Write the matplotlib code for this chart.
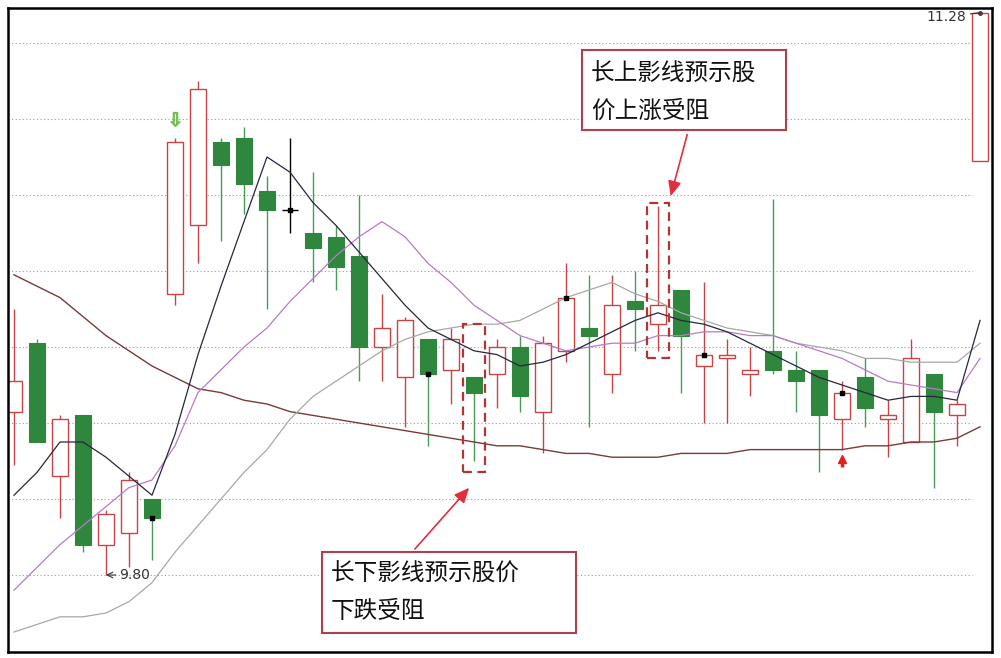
import numpy as np
import matplotlib
matplotlib.use("Agg")
import matplotlib.pyplot as plt
from matplotlib.patches import Rectangle

plt.rcParams['font.family'] = ['Noto Sans CJK SC', 'DejaVu Sans']

# K线数据
opens = [10.23, 10.41, 10.06, 10.22, 9.88, 9.91, 10.00, 10.54, 10.72, 10.94, 10.95, 10.81, 10.76, 10.70, 10.69,
         10.64, 10.40, 10.32, 10.42, 10.34, 10.32, 10.33, 10.40, 10.23, 10.39, 10.45, 10.33, 10.52, 10.46, 10.55,
         10.35, 10.37, 10.33, 10.39, 10.34, 10.34, 10.21, 10.32, 10.21, 10.15, 10.33, 10.22, 10.89]
closes = [10.31, 10.15, 10.21, 9.88, 9.96, 10.05, 9.95, 10.94, 11.08, 10.88, 10.83, 10.76, 10.76, 10.66, 10.61,
          10.40, 10.45, 10.47, 10.33, 10.42, 10.28, 10.40, 10.27, 10.41, 10.53, 10.43, 10.51, 10.50, 10.51, 10.43,
          10.38, 10.38, 10.34, 10.34, 10.31, 10.22, 10.28, 10.24, 10.22, 10.37, 10.23, 10.25, 11.28]
highs = [10.50, 10.42, 10.22, 10.22, 9.97, 10.07, 10.00, 10.95, 11.10, 10.95, 10.98, 10.85, 10.95, 10.86, 10.72,
         10.80, 10.54, 10.48, 10.42, 10.45, 10.32, 10.42, 10.43, 10.43, 10.62, 10.59, 10.59, 10.60, 10.77, 10.55,
         10.57, 10.42, 10.40, 10.79, 10.39, 10.34, 10.31, 10.37, 10.26, 10.42, 10.33, 10.26, 11.28]
lows = [10.09, 10.15, 9.95, 9.86, 9.80, 9.82, 9.84, 10.51, 10.62, 10.68, 10.75, 10.50, 10.70, 10.57, 10.55,
        10.31, 10.31, 10.19, 10.14, 10.25, 10.10, 10.24, 10.23, 10.12, 10.36, 10.19, 10.28, 10.39, 10.39, 10.28,
        10.20, 10.20, 10.27, 10.33, 10.23, 10.07, 10.13, 10.19, 10.11, 10.15, 10.03, 10.14, 10.89]

# 均线
ma5 = [10.01, 10.07, 10.15, 10.15, 10.11, 10.06, 10.01, 10.17, 10.38, 10.56, 10.73, 10.90, 10.86, 10.78, 10.72,
       10.65, 10.58, 10.51, 10.45, 10.42, 10.39, 10.38, 10.35, 10.36, 10.38, 10.41, 10.44, 10.47, 10.49, 10.47,
       10.46, 10.44, 10.41, 10.38, 10.35, 10.32, 10.30, 10.28, 10.26, 10.27, 10.27, 10.26, 10.47]
ma10 = [9.76, 9.82, 9.88, 9.93, 9.98, 10.03, 10.05, 10.14, 10.28, 10.34, 10.40, 10.45, 10.52, 10.58, 10.64,
        10.69, 10.73, 10.69, 10.62, 10.57, 10.51, 10.47, 10.43, 10.41, 10.39, 10.40, 10.41, 10.41, 10.43, 10.43,
        10.44, 10.44, 10.43, 10.43, 10.41, 10.39, 10.37, 10.34, 10.31, 10.30, 10.29, 10.28, 10.37]
ma20 = [9.65, 9.67, 9.69, 9.69, 9.70, 9.73, 9.78, 9.86, 9.93, 10.00, 10.07, 10.13, 10.21, 10.27, 10.31,
        10.35, 10.39, 10.42, 10.44, 10.45, 10.46, 10.46, 10.47, 10.50, 10.53, 10.55, 10.57, 10.54, 10.52, 10.49,
        10.47, 10.45, 10.44, 10.43, 10.41, 10.40, 10.39, 10.37, 10.37, 10.36, 10.36, 10.36, 10.41]
ma60 = [10.59, 10.56, 10.53, 10.48, 10.43, 10.39, 10.35, 10.32, 10.29, 10.28, 10.26, 10.25, 10.23, 10.22, 10.21,
        10.20, 10.19, 10.18, 10.17, 10.16, 10.15, 10.14, 10.14, 10.13, 10.12, 10.12, 10.11, 10.11, 10.11, 10.12,
        10.12, 10.12, 10.13, 10.13, 10.13, 10.13, 10.13, 10.14, 10.14, 10.15, 10.15, 10.16, 10.19]

grid_levels = [9.8, 10.0, 10.2, 10.4, 10.6, 10.8, 11.0, 11.2]
mark_idx = [6, 12, 18, 24, 30, 36]      # 黑色小方块标记
box_idx = [20, 28]                       # 虚线框
box_top = [10.46, 10.78]
box_bot = [10.07, 10.37]
low_label = "9.80"
high_label = "11.28"
note_up = "长上影线预示股\n价上涨受阻"
note_down = "长下影线预示股价\n下跌受阻"

RED = '#c84444'
GREEN = '#2e873c'
GREEN_W = '#4a9a55'

fig = plt.figure(figsize=(10.01, 6.58), dpi=100)
ax = fig.add_axes([8 / 1001, 6 / 658, 984 / 1001, 644 / 658])
ax.set_xlim(-0.26, 42.52)
ax.set_ylim(9.5974, 11.2921)
ax.set_xticks([])
ax.set_yticks([])
for s in ax.spines.values():
    s.set_linewidth(1.8)
    s.set_color('black')

# 网格（点线）
ax.hlines(grid_levels, -0.26, 41.65, colors='#9a9a9a', linestyles=(0, (1, 2.2)), linewidth=0.8, zorder=0)

w = 0.7
for i, (o, c, h, l) in enumerate(zip(opens, closes, highs, lows)):
    top, bot = max(o, c), min(o, c)
    if c > o:
        ax.vlines(i, top, h, color=RED, linewidth=1.0, zorder=2)
        ax.vlines(i, l, bot, color=RED, linewidth=1.0, zorder=2)
        ax.add_patch(Rectangle((i - w / 2, bot), w, max(top - bot, 0.008), facecolor='white',
                               edgecolor=RED, linewidth=1.0, zorder=2))
    elif c < o:
        ax.vlines(i, l, h, color=GREEN_W, linewidth=1.0, zorder=2)
        ax.add_patch(Rectangle((i - w / 2, bot), w, top - bot, facecolor=GREEN,
                               edgecolor=GREEN, linewidth=0.8, zorder=2))
    else:
        ax.vlines(i, l, h, color='black', linewidth=1.0, zorder=2)
        ax.hlines(c, i - w / 2, i + w / 2, color='black', linewidth=1.0, zorder=2)

# 均线
xs = np.arange(len(closes))
ax.plot(xs, ma60, color='#7a3a3a', linewidth=1.0, zorder=3)
ax.plot(xs, ma20, color='#a8a8a8', linewidth=0.9, zorder=3)
ax.plot(xs, ma10, color='#b87ac8', linewidth=0.9, zorder=3)
ax.plot(xs, ma5, color='#262640', linewidth=0.9, zorder=3)

# 收盘价标记
ax.plot(mark_idx, [closes[i] for i in mark_idx], 's', color='black', markersize=3.5, zorder=4)

# 箭头标记
ax.plot(7, 11.00, marker='$⇩$', color='#77c055', markersize=10, zorder=4)
ax.plot(36, 10.105, marker='^', color='#e02020', markersize=6, zorder=4)
ax.vlines(36, 10.085, 10.10, color='#e02020', linewidth=2.5, zorder=4)

# 虚线框
for i, yt, yb in zip(box_idx, box_top, box_bot):
    ax.add_patch(Rectangle((i - 0.47, yb), 0.94, yt - yb, fill=False, edgecolor='#b03535',
                           linewidth=1.6, linestyle=(0, (4, 2.5)), zorder=5))

# 最低/最高价标注
ax.annotate(low_label, xy=(4, lows[4]), xytext=(4.55, lows[4]), fontsize=10, color='#333333',
            va='center', ha='left', family='DejaVu Sans',
            arrowprops=dict(arrowstyle='->', color='#333333', lw=0.8, shrinkA=0, shrinkB=0))
ax.annotate(high_label, xy=(42, highs[42]), xytext=(41.4, highs[42] - 0.012), fontsize=10,
            color='#333333', va='center', ha='right', family='DejaVu Sans',
            arrowprops=dict(arrowstyle='-', color='#333333', lw=0.8, shrinkA=1, shrinkB=0))
ax.plot(42, highs[42], 'o', color='#553333', markersize=2.5, zorder=6)

# 文字说明框
tr = ax.transAxes
ax.add_patch(Rectangle((0.5833, 0.8106), 0.2074, 0.1242, transform=tr, fill=True, facecolor='white',
                       edgecolor='#b0404c', linewidth=1.5, zorder=6))
ax.text(0.5925, 0.8688, note_up, transform=tr, fontsize=17, va='center', ha='left',
        linespacing=1.8, color='#111111', zorder=7)
ax.add_patch(Rectangle((0.3191, 0.0295), 0.2581, 0.1258, transform=tr, fill=True, facecolor='white',
                       edgecolor='#b0404c', linewidth=1.5, zorder=6))
ax.text(0.3283, 0.0924, note_down, transform=tr, fontsize=17, va='center', ha='left',
        linespacing=1.8, color='#111111', zorder=7)

# 红色箭头
ax.annotate('', xy=(28.52, 10.79), xytext=(29.3, 10.966),
            arrowprops=dict(arrowstyle='-|>,head_length=0.9,head_width=0.4', color='#e0303c', lw=1.2),
            zorder=7)
ax.annotate('', xy=(19.87, 10.035), xytext=(17.35, 9.863),
            arrowprops=dict(arrowstyle='-|>,head_length=0.9,head_width=0.4', color='#e0303c', lw=1.2),
            zorder=7)

fig.savefig('out.png', dpi=100)
